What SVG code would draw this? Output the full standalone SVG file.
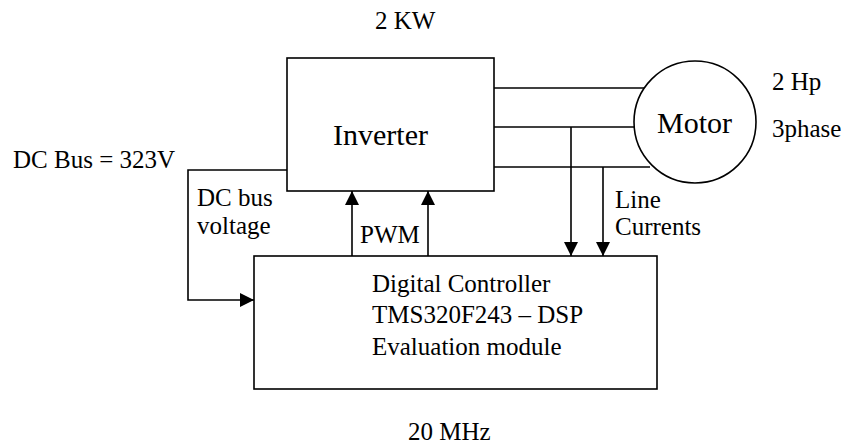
<svg xmlns="http://www.w3.org/2000/svg" width="845" height="446" viewBox="0 0 845 446">
<style>
text{font-family:'Liberation Serif','Times New Roman','DejaVu Serif',serif;fill:#000;font-size:25px}
.big{font-size:30px}
.box{fill:#fff;stroke:#000;stroke-width:1.6}
.ln{fill:none;stroke:#000;stroke-width:1.6}
</style>
<defs>
<marker id="ah" markerWidth="14" markerHeight="14" refX="14" refY="7" orient="auto" markerUnits="userSpaceOnUse">
<path d="M0,0 L14,7 L0,14 Z" fill="#000"/>
</marker>
</defs>
<rect width="845" height="446" fill="#fff"/>
<g id="connectors">
<path class="ln" d="M494,88 H648"/>
<path class="ln" d="M494,127 H635"/>
<path class="ln" d="M494,167 H650"/>
<path class="ln" d="M571,127 V256" marker-end="url(#ah)"/>
<path class="ln" d="M603,167 V256" marker-end="url(#ah)"/>
<path class="ln" d="M352,256 V191" marker-end="url(#ah)"/>
<path class="ln" d="M428,256 V191" marker-end="url(#ah)"/>
<path class="ln" d="M287,170 H188 V300 H254" marker-end="url(#ah)"/>
</g>
<g id="inverter">
<rect class="box" x="287" y="58" width="207" height="133"/>
<text class="big" x="333" y="145" font-family="Liberation Serif, serif">Inverter</text>
</g>
<g id="motor">
<circle class="box" cx="695" cy="122" r="61"/>
<text class="big" x="657" y="133" font-family="Liberation Serif, serif">Motor</text>
</g>
<g id="controller" font-family="Liberation Serif, serif">
<rect class="box" x="254" y="256" width="403" height="133"/>
<text x="372" y="292">Digital Controller</text>
<text x="372" y="323">TMS320F243 – DSP</text>
<text x="372" y="355">Evaluation module</text>
</g>
<g id="labels" font-family="Liberation Serif, serif">
<text x="375" y="29">2 KW</text>
<text x="13" y="168">DC Bus = 323V</text>
<text x="772" y="90">2 Hp</text>
<text x="772" y="137">3phase</text>
<text x="197" y="206">DC bus</text>
<text x="197" y="234">voltage</text>
<text x="360" y="243">PWM</text>
<text x="615" y="208">Line</text>
<text x="615" y="235">Currents</text>
<text x="408" y="440">20 MHz</text>
</g>
</svg>
